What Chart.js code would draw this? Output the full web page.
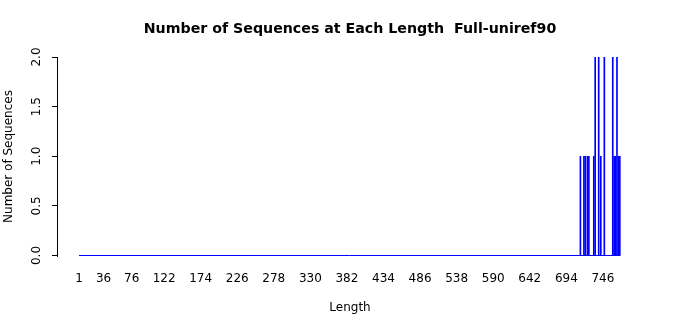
<!DOCTYPE html>
<html>
<head>
<meta charset="utf-8">
<script src="https://cdn.jsdelivr.net/npm/chart.js@4.4.1/dist/chart.umd.min.js"></script>
<style>
  html, body { margin: 0; padding: 0; background: #fff; }
  #wrap { width: 700px; height: 315px; }
</style>
</head>
<body>
<div id="wrap"><canvas id="lengthChart" width="700" height="315"></canvas></div>
<script>
const chartTitle = "Number of Sequences at Each Length  Full-uniref90";
const firstLength = 1;
const lastLength = 771;
// only the lengths that occur, everything else is 0
const seqLengths = [714, 719, 721, 724, 726, 733, 735, 740, 743, 748, 760, 762, 764, 766, 768, 770];
const seqCounts  = [1,   1,   1,   1,   1,   1,   2,   2,   1,   2,   2,   1,   1,   2,   1,   1];
const xTickLabels = [1, 36, 76, 122, 174, 226, 278, 330, 382, 434, 486, 538, 590, 642, 694, 746];
const yTickLabels = [0, 0.5, 1, 1.5, 2];

const FONT = "'DejaVu Sans', sans-serif";

const bars = seqLengths.map((len, i) => ({ x: len, y: seqCounts[i] }));
const baseline = [{ x: firstLength, y: 0 }, { x: lastLength, y: 0 }];

// R style main title, centered on the whole page
const mainTitle = {
  id: 'mainTitle',
  afterDraw(chart) {
    const ctx = chart.ctx;
    ctx.save();
    ctx.font = "bold 14.2px " + FONT;
    ctx.fillStyle = '#000';
    ctx.textAlign = 'center';
    ctx.textBaseline = 'middle';
    ctx.fillText(chartTitle, 350, 29);
    ctx.restore();
  }
};

new Chart(document.getElementById('lengthChart').getContext('2d'), {
  type: 'bar',
  data: {
    datasets: [
      {
        type: 'line',
        data: baseline,
        borderColor: '#0000ff',
        borderWidth: 1,
        pointRadius: 0,
        fill: false
      },
      {
        data: bars,
        backgroundColor: '#0000ff',
        borderWidth: 0,
        barThickness: 1
      }
    ]
  },
  options: {
    responsive: false,
    animation: false,
    layout: { padding: { top: 57, right: 57, left: 0, bottom: 0 } },
    plugins: {
      legend: { display: false },
      tooltip: { enabled: false }
    },
    scales: {
      x: {
        type: 'linear',
        offset: false,
        min: -30.28,
        max: 803.0,
        afterFit: (s) => { s.height = 59; },
        afterBuildTicks: (s) => { s.ticks = xTickLabels.map(v => ({ value: v })); },
        grid: { display: false, drawTicks: false },
        border: { display: false },
        ticks: {
          autoSkip: false,
          maxRotation: 0,
          padding: 16,
          color: '#000',
          font: { family: FONT, size: 12 },
          callback: (v) => String(v)
        },
        title: {
          display: true,
          text: 'Length',
          color: '#000',
          font: { family: FONT, size: 12 },
          padding: { top: 0, bottom: 0 }
        }
      },
      y: {
        min: -0.00504,
        max: 2,
        afterFit: (s) => { s.width = 57; },
        afterBuildTicks: (s) => { s.ticks = yTickLabels.map(v => ({ value: v })); },
        grid: { drawOnChartArea: false, tickLength: 5, color: '#000' },
        border: { display: true, color: '#000', width: 1 },
        ticks: {
          minRotation: 90,
          maxRotation: 90,
          crossAlign: 'center',
          padding: 6,
          color: '#000',
          font: { family: FONT, size: 12 },
          callback: (v) => v.toFixed(1)
        },
        title: {
          display: true,
          text: 'Number of Sequences',
          color: '#000',
          font: { family: FONT, size: 12 },
          padding: { top: 2, bottom: 0 }
        }
      }
    }
  },
  plugins: [mainTitle]
});
</script>
</body>
</html>
